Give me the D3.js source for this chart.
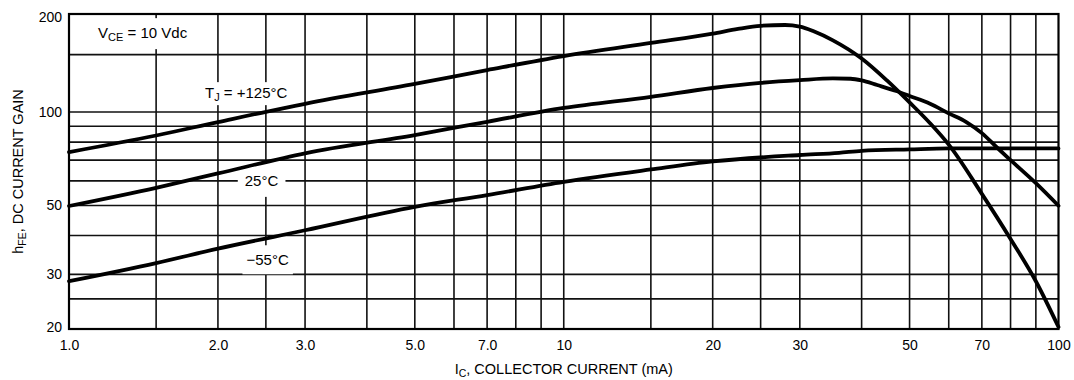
<!DOCTYPE html>
<html><head><meta charset="utf-8">
<script src="https://cdn.jsdelivr.net/npm/d3@7"></script>
<style>
body{margin:0;background:#fff}
svg{display:block}
text{font-family:"Liberation Sans",Arial,Helvetica,sans-serif;fill:#000}
</style>
</head><body>
<svg id="c" width="1074" height="380"></svg>
<script>
// ---- data ----
const xTickValues = [1, 2, 3, 5, 7, 10, 20, 30, 50, 70, 100];
const xTickLabels = ["1.0", "2.0", "3.0", "5.0", "7.0", "10", "20", "30", "50", "70", "100"];
const yTickValues = [20, 30, 50, 100, 200];
const yTickLabels = ["20", "30", "50", "100", "200"];
const xGridValues = [1.5, 2, 2.5, 3, 4, 5, 6, 7, 8, 9, 10, 15, 20, 25, 30, 40, 50, 60, 70, 80, 90];
const yGridValues = [25, 30, 40, 50, 60, 70, 80, 90, 100, 150];

const ic125  = [1, 1.5, 2, 3, 5, 7, 10, 15, 20, 22.5, 25, 28, 30, 32, 35, 40, 45, 50, 55, 60, 70, 80, 90, 100];
const hfe125 = [74.3, 84, 92.8, 106, 122, 134.5, 148.5, 163, 174, 180, 184, 185, 183, 177, 166, 146, 125, 107, 92, 78.5, 54.5, 39, 28.5, 20.3];

const ic25  = [1, 1.5, 2, 3, 5, 7, 10, 15, 20, 25, 30, 35, 38, 40, 43, 47, 50, 55, 60, 65, 70, 75, 80, 90, 100];
const hfe25 = [49.8, 57, 63.4, 73.6, 84.3, 93, 102.9, 111.3, 118.5, 122.9, 125.3, 126.8, 126.5, 125, 121, 116, 112, 106, 99, 93, 85.5, 77, 70, 59, 49.9];

const icM55  = [1, 1.5, 2, 3, 5, 7, 10, 15, 20, 30, 36, 40, 50, 60, 70, 100];
const hfeM55 = [28.5, 32.6, 36.3, 41.6, 49.5, 54, 59.6, 65.3, 69.3, 72.7, 73.9, 75, 75.8, 76.3, 76.3, 76.3];

const seriesLabels = ["TJ = +125°C", "25°C", "−55°C"];

// ---- chart ----
const svg = d3.select("#c");
const x = d3.scaleLog().domain([1, 100]).range([69, 1058.5]);
const y = d3.scaleLog().domain([20, 100, 200]).range([329, 112, 14]);
const [x0, x1] = x.range();
const yB = y(20), yT = y(200);

const grid = svg.append("g").attr("stroke", "#111").attr("stroke-width", 1.6);
grid.selectAll("line.v").data(xGridValues).join("line")
  .attr("x1", d => x(d)).attr("x2", d => x(d)).attr("y1", yT).attr("y2", yB);
grid.selectAll("line.h").data(yGridValues).join("line")
  .attr("y1", d => y(d)).attr("y2", d => y(d)).attr("x1", x0).attr("x2", x1);

svg.append("rect").attr("x", x0).attr("y", yT).attr("width", x1 - x0).attr("height", yB - yT)
  .attr("fill", "none").attr("stroke", "#000").attr("stroke-width", 2.2);

// annotation layer (white boxes behind text)
const ann = svg.append("g");
function label(parts, px, py, anchor, padX, padY) {
  const g = ann.append("g");
  const r = g.append("rect").attr("fill", "#fff");
  const t = g.append("text").attr("x", px).attr("y", py).attr("text-anchor", anchor).attr("font-size", 15);
  parts.forEach(p => {
    const ts = t.append("tspan").text(p.t);
    if (p.sub) ts.attr("font-size", 11).attr("dy", 3);
    if (p.back) ts.attr("dy", -3);
  });
  const b = t.node().getBBox();
  r.attr("x", b.x - padX).attr("y", b.y - padY).attr("width", b.width + 2 * padX).attr("height", b.height + 2 * padY);
}
label([{t: "V"}, {t: "CE", sub: true}, {t: " = 10 Vdc", back: true}], x(1.145), y(168.6), "start", 10, 6);
label([{t: "T"}, {t: "J", sub: true}, {t: " = +125°C", back: true}], x(1.883), y(110.3), "start", 3, 2);
label([{t: seriesLabels[1]}], x(2.45), y(60) + 5, "middle", 7, 8);
label([{t: seriesLabels[2]}], x(2.52), y(33.3) + 5, "middle", 4, 6);

// curves
const line = d3.line().x(d => x(d[0])).y(d => y(d[1])).curve(d3.curveMonotoneX);
const curves = [d3.zip(ic125, hfe125), d3.zip(ic25, hfe25), d3.zip(icM55, hfeM55)];
svg.append("g").selectAll("path").data(curves).join("path")
  .attr("d", line).attr("fill", "none").attr("stroke", "#000")
  .attr("stroke-width", 3.8).attr("stroke-linejoin", "round").attr("stroke-linecap", "round");

// axes
const ax = svg.append("g").attr("transform", `translate(0,${yB})`)
  .call(d3.axisBottom(x).tickValues(xTickValues).tickFormat((d, i) => xTickLabels[i]).tickSize(0).tickPadding(11));
const ay = svg.append("g").attr("transform", `translate(${x0},0)`)
  .call(d3.axisLeft(y).tickValues(yTickValues).tickFormat((d, i) => yTickLabels[i]).tickSize(0).tickPadding(7));
[ax, ay].forEach(a => {
  a.select(".domain").remove();
  a.selectAll("text").attr("font-size", 14).attr("fill", "#000");
  a.attr("font-family", null).attr("font-size", null);
});
// end labels sit slightly inside the frame, as in the original
ay.selectAll(".tick text").attr("dy", d => d === 200 ? "0.55em" : d === 20 ? "0.2em" : "0.32em");

// axis titles
const xt = svg.append("text").attr("x", x(10)).attr("y", 374).attr("text-anchor", "middle").attr("font-size", 14.5);
xt.append("tspan").text("I");
xt.append("tspan").text("C").attr("font-size", 10.5).attr("dy", 3);
xt.append("tspan").text(", COLLECTOR CURRENT (mA)").attr("dy", -3);

const yt = svg.append("text").attr("transform", `translate(23,${(yT + yB) / 2}) rotate(-90)`)
  .attr("text-anchor", "middle").attr("font-size", 14.5);
yt.append("tspan").text("h");
yt.append("tspan").text("FE").attr("font-size", 10.5).attr("dy", 3);
yt.append("tspan").text(", DC CURRENT GAIN").attr("dy", -3);
</script>
</body></html>
